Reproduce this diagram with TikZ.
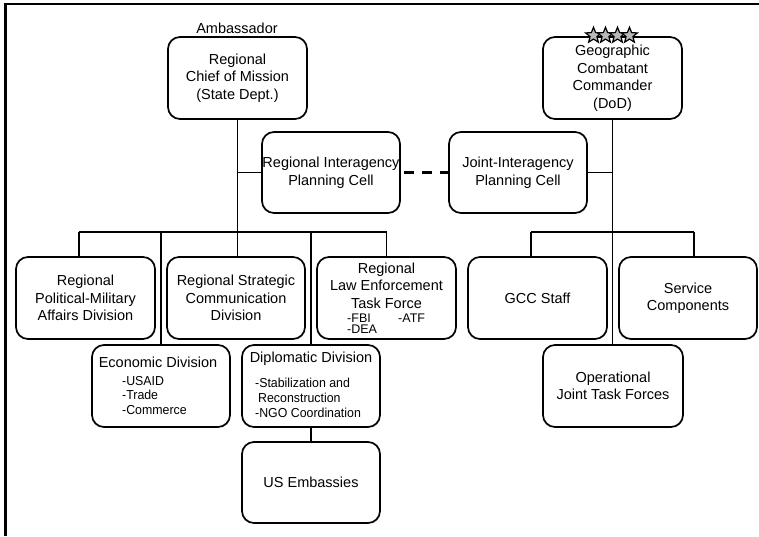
\documentclass[tikz,border=0pt]{standalone}
\usepackage{fontspec}
\setmainfont{Liberation Sans}
\newfontfamily\narrowfont[FakeStretch=0.95]{Liberation Sans}
\usetikzlibrary{shapes.geometric}
\newcommand{\mainsz}{\fontsize{14.5}{17.5}\selectfont}
\newcommand{\subsz}{\narrowfont\fontsize{13}{14.7}\selectfont}
\newcommand{\lawsz}{\fontsize{12.5}{11}\selectfont}
\begin{document}
\begin{tikzpicture}[x=1pt,y=-1pt,
  box/.style={draw, line width=1.7pt, rounded corners=12pt, inner sep=0pt, align=center, font=\mainsz},
  txt/.style={inner sep=0pt, align=center, font=\mainsz},
  conn/.style={line width=1.3pt},
  frameline/.style={line width=2.6pt},
  dashconn/.style={line width=2.8pt, dash pattern=on 10pt off 8pt, dash phase=-3pt},
  starmark/.style={star, star points=5, star point ratio=2.3, minimum size=16.5pt, inner sep=0pt, draw, fill=gray!55, line width=1.2pt}]
\useasboundingbox (0,0) rectangle (759,536);
% frame (top and left edges only)
\coordinate (ftl) at (4,4);
\coordinate (ftr) at (759,4);
\coordinate (fl1) at (5.5,4);
\coordinate (fl2) at (5.5,536);
\draw[frameline] (ftl) -- (ftr);
\draw[frameline] (fl1) -- (fl2);

% top row
\node[txt] (amb) at (237,28) {Ambassador};
\node[box, minimum width=139pt, minimum height=82pt] (chief) at (237.5,78) {Regional\\Chief of Mission\\(State Dept.)};
\node[box, minimum width=139pt, minimum height=82pt] (gcc) at (612.5,78) {Geographic\\Combatant\\Commander\\(DoD)};
\node[starmark] (s1) at (593.5,35.5) {};
\node[starmark] (s2) at (605.5,35.5) {};
\node[starmark] (s3) at (617.5,35.5) {};
\node[starmark] (s4) at (629.5,35.5) {};

% planning cells
\node[box, minimum width=138pt, minimum height=81pt] (ripc) at (331,172.5) {Regional Interagency\\Planning Cell};
\node[box, minimum width=138pt, minimum height=81pt] (jipc) at (518,172.5) {Joint-Interagency\\Planning Cell};

% second row
\node[box, minimum width=139pt, minimum height=82pt] (polmil) at (85.5,298) {Regional\\Political-Military\\Affairs Division};
\node[box, minimum width=138pt, minimum height=82pt] (strat) at (236,298) {Regional Strategic\\Communication\\Division};
\node[box, minimum width=139pt, minimum height=82pt] (law) at (386.5,298) {};
\node[txt] (lawt) at (386.5,285.5) {Regional\\Law Enforcement\\Task Force};
\node[inner sep=0pt, anchor=base west, font=\lawsz] (fbi) at (347,322) {-FBI};
\node[inner sep=0pt, anchor=base west, font=\lawsz] (atf) at (398,322) {-ATF};
\node[inner sep=0pt, anchor=base west, font=\lawsz] (dea) at (347,333) {-DEA};
\node[box, minimum width=139pt, minimum height=82pt] (gccstaff) at (537.5,298) {GCC Staff};
\node[box, minimum width=138pt, minimum height=82pt] (service) at (688,298) {Service\\Components};

% third row
\node[box, minimum width=138pt, minimum height=82pt] (econ) at (161,386) {};
\node[txt] (econt) at (158,362) {Economic Division};
\node[inner sep=0pt, anchor=west, align=left, font=\subsz] (econl) at (122,395.5) {-USAID\\-Trade\\-Commerce};
\node[box, minimum width=138pt, minimum height=82pt] (dipl) at (311,386) {};
\node[txt] (diplt) at (311,359) {Diplomatic Division};
\node[inner sep=0pt, anchor=west, align=left, font=\subsz] (dipll) at (255,398) {-Stabilization and\\\hspace*{3pt}Reconstruction\\-NGO Coordination};
\node[box, minimum width=140pt, minimum height=82pt] (ojtf) at (613,386) {Operational\\Joint Task Forces};

% bottom
\node[box, minimum width=138pt, minimum height=81pt] (usemb) at (311,482.5) {US Embassies};

% left tree connectors
\coordinate (lbarL) at (79,232);
\coordinate (lbarR) at (386.5,232);
\draw[conn] (chief.south) -- (chief.south |- strat.north);
\draw[conn] (chief.south |- ripc.west) -- (ripc.west);
\draw[conn] (lbarL) -- (lbarR);
\draw[conn] (lbarL) -- (lbarL |- polmil.north);
\draw[conn] (econ.north |- lbarL) -- (econ.north);
\draw[conn] (dipl.north |- lbarL) -- (dipl.north);
\draw[conn] (law.north |- lbarL) -- (law.north);
\draw[conn] (dipl.south) -- (usemb.north);

% right tree connectors
\coordinate (rbarL) at (531,232);
\coordinate (rbarR) at (694,232);
\draw[conn] (gcc.south) -- (gcc.south |- ojtf.north);
\draw[conn] (gcc.south |- jipc.east) -- (jipc.east);
\draw[conn] (rbarL) -- (rbarR);
\draw[conn] (rbarL) -- (rbarL |- gccstaff.north);
\draw[conn] (rbarR) -- (rbarR |- service.north);

% dashed link between planning cells
\draw[dashconn] (ripc.east) -- (jipc.west);
\end{tikzpicture}
\end{document}
